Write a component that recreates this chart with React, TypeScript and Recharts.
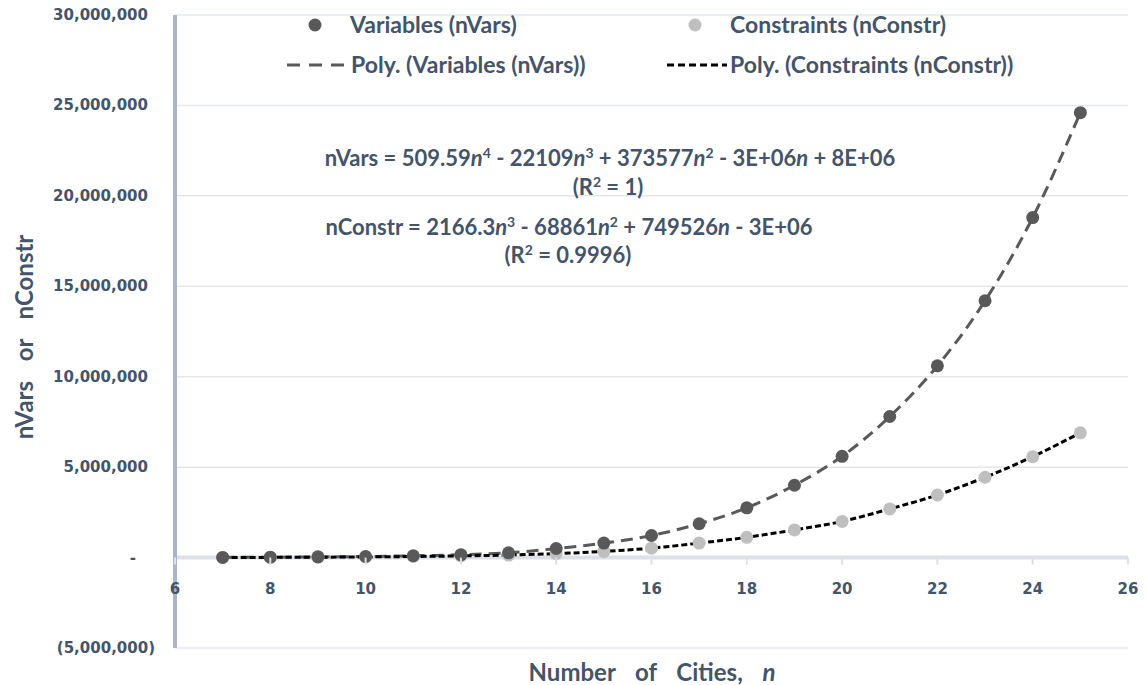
import React from 'react';
import { ComposedChart, Scatter, Line, XAxis, YAxis, CartesianGrid, ReferenceLine } from 'recharts';

// number of cities n
const cities = [7, 8, 9, 10, 11, 12, 13, 14, 15, 16, 17, 18, 19, 20, 21, 22, 23, 24, 25];
// nVars
const variables = [
  10000, 20000, 40000, 60000, 100000, 160000, 260000, 500000, 800000, 1220000,
  1870000, 2750000, 4000000, 5600000, 7800000, 10600000, 14200000, 18800000, 24600000,
];
// nConstr
const constraints = [
  5000, 10000, 20000, 35000, 60000, 90000, 140000, 220000, 340000, 520000,
  800000, 1120000, 1530000, 2000000, 2690000, 3460000, 4440000, 5580000, 6900000,
];
const xTicks = [6, 8, 10, 12, 14, 16, 18, 20, 22, 24, 26];
const yTicks = [-5000000, 0, 5000000, 10000000, 15000000, 20000000, 25000000, 30000000];

const W = 1146;
const H = 685;
const X_AXIS_H = 30;
const margin = { top: 15, right: 18, bottom: 7, left: 0 };
const Y_AXIS_W = 175;
const Y_MIN = -5000000;
const Y_MAX = 30000000;
const plotH = H - margin.top - margin.bottom - X_AXIS_H;
const zeroY = margin.top + (plotH * Y_MAX) / (Y_MAX - Y_MIN);

const TEXT = '#44546a';
const DARK = '#595959';
const LIGHT = '#bfbfbf';
const LABEL_FONT = 'Lato, "Open Sans", sans-serif';
const TICK_FONT = '"DejaVu Sans", sans-serif';

const varsData = cities.map((n, i) => ({ n, value: variables[i] }));
const constrData = cities.map((n, i) => ({ n, value: constraints[i] }));

const fmt = (v: number) => v.toLocaleString('en-US');

const YTick = (props: any) => {
  const v = props.payload.value;
  let label = fmt(v);
  let dx = 0;
  if (v === 0) {
    label = '-';
    dx = -12;
  } else if (v < 0) {
    label = `(${fmt(-v)})`;
    dx = 7;
  }
  return (
    <text x={Y_AXIS_W - 27 + dx} y={props.y} dy={5} textAnchor="end" fill={TEXT}
      fontFamily={TICK_FONT} fontWeight="bold" fontSize={15}>
      {label}
    </text>
  );
};

const XTick = (props: any) => (
  <g>
    <line x1={props.x} x2={props.x} y1={zeroY} y2={zeroY + 7} stroke="#dbe1e8" strokeWidth={2} />
    <text x={props.x} y={zeroY + 36} textAnchor="middle" fill={TEXT}
      fontFamily={TICK_FONT} fontWeight="bold" fontSize={15}>
      {props.payload.value}
    </text>
  </g>
);

const dot = (color: string) => (p: any) => <circle cx={p.cx} cy={p.cy} r={6.5} fill={color} />;

const abs = (x: number, y: number, extra: React.CSSProperties = {}): React.CSSProperties => ({
  position: 'absolute', left: x, top: y, fontFamily: LABEL_FONT, fontWeight: 'bold',
  color: TEXT, fontSize: 23, whiteSpace: 'pre', lineHeight: 1, ...extra,
});

const sup: React.CSSProperties = { fontSize: 14 };
const eq = (cx: number, cy: number): React.CSSProperties =>
  abs(cx, cy - 11, { fontSize: 22, transform: 'translateX(-50%)' });

export default function App() {
  return (
    <div style={{ position: 'absolute', left: 0, top: 0, width: W, height: H, background: '#fff' }}>
      <ComposedChart width={W} height={H} margin={margin}>
        <CartesianGrid vertical={false} stroke="#e3e7ec" strokeWidth={1.5} />
        <XAxis type="number" dataKey="n" domain={[6, 26]} ticks={xTicks} interval={0} height={X_AXIS_H}
          axisLine={false} tickLine={false} tick={<XTick />} />
        <YAxis type="number" dataKey="value" domain={[Y_MIN, Y_MAX]} ticks={yTicks} interval={0}
          width={Y_AXIS_W} axisLine={{ stroke: '#a9b4c6', strokeWidth: 4 }} tickLine={false}
          tick={<YTick />} />
        <ReferenceLine y={0} stroke="#dbe1e8" strokeWidth={4} />
        <Scatter data={constrData} dataKey="value" fill={LIGHT} shape={dot(LIGHT)} isAnimationActive={false} />
        <Scatter data={varsData} dataKey="value" fill={DARK} shape={dot(DARK)} isAnimationActive={false} />
        <Line data={varsData} dataKey="value" type="monotone" stroke={DARK} strokeWidth={3}
          strokeDasharray="12 7" dot={false} activeDot={false} isAnimationActive={false} />
        <Line data={constrData} dataKey="value" type="monotone" stroke="#000" strokeWidth={3}
          strokeDasharray="6 3" dot={false} activeDot={false} isAnimationActive={false} />
      </ComposedChart>

      {/* legend */}
      <svg style={{ position: 'absolute', left: 0, top: 0 }} width={W} height={80}>
        <circle cx={315} cy={25} r={6.5} fill={DARK} />
        <circle cx={695} cy={25} r={6.5} fill={LIGHT} />
        <line x1={287} x2={345} y1={65} y2={65} stroke={DARK} strokeWidth={3} strokeDasharray="13 9" />
        <line x1={667} x2={727} y1={65} y2={65} stroke="#000" strokeWidth={3} strokeDasharray="7 4" />
      </svg>
      <div style={abs(350, 13)}>Variables (nVars)</div>
      <div style={abs(730, 13)}>Constraints (nConstr)</div>
      <div style={abs(351, 53)}>Poly. (Variables (nVars))</div>
      <div style={abs(730, 53)}>Poly. (Constraints (nConstr))</div>

      {/* trend equations */}
      <div style={eq(610, 157)}>
        nVars = 509.59<i>n</i><sup style={sup}>4</sup> - 22109<i>n</i><sup style={sup}>3</sup> + 373577<i>n</i><sup style={sup}>2</sup> - 3E+06<i>n</i> + 8E+06
      </div>
      <div style={eq(608, 186)}>
        (R<sup style={sup}>2</sup> = 1)
      </div>
      <div style={eq(569, 226)}>
        nConstr = 2166.3<i>n</i><sup style={sup}>3</sup> - 68861<i>n</i><sup style={sup}>2</sup> + 749526<i>n</i> - 3E+06
      </div>
      <div style={eq(568, 254)}>
        (R<sup style={sup}>2</sup> = 0.9996)
      </div>

      {/* axis titles */}
      <div style={abs(24, 337, { fontSize: 24, wordSpacing: 4, transform: 'translate(-50%, -50%) rotate(-90deg)' })}>
        nVars  or  nConstr
      </div>
      <div style={abs(652, 672, { fontSize: 24, wordSpacing: 4, transform: 'translate(-50%, -50%)' })}>
        Number  of  Cities,  <i>n</i>
      </div>
    </div>
  );
}
